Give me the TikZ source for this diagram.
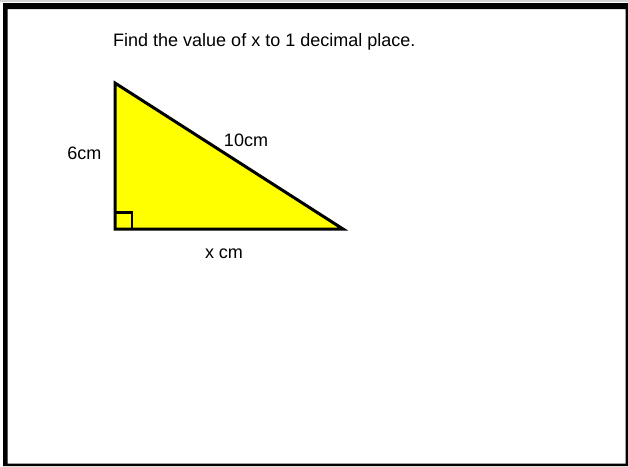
\documentclass[tikz,border=0pt]{standalone}
\usepackage{fontspec}
\setmainfont{Liberation Sans}
\definecolor{triyellow}{RGB}{255,255,0}
\begin{document}
\begin{tikzpicture}[x=1pt,y=-1pt,
  lbl/.style={inner sep=0pt,font=\fontsize{18}{21}\selectfont},
  tri/.style={draw=black,line width=3pt,fill=triyellow,line join=miter}]
\useasboundingbox (0,0) rectangle (628,466);
\fill[white] (0,0) rectangle (628,466);
\fill[gray!35] (0,0) rectangle (628,2);
\fill[black,even odd rule] (3,3) rectangle (628,466) (7.5,9) rectangle (625.5,463.5);
\coordinate (A) at (115,83);
\coordinate (B) at (115,229);
\coordinate (C) at (343,229);
\draw[tri] (A) -- (B) -- (C) -- cycle;
\draw[line width=2.5pt] (115,212.5) -- (132,212.5) -- (132,229);
\node[lbl,anchor=base west] (title) at (113,46) {Find the value of x to 1 decimal place.};
\node[lbl,anchor=base east] (six) at (101.5,159) {6cm};
\node[lbl,anchor=base] (ten) at (246,146) {10cm};
\node[lbl,anchor=base] (xcm) at (224,258) {x cm};
\end{tikzpicture}
\end{document}
